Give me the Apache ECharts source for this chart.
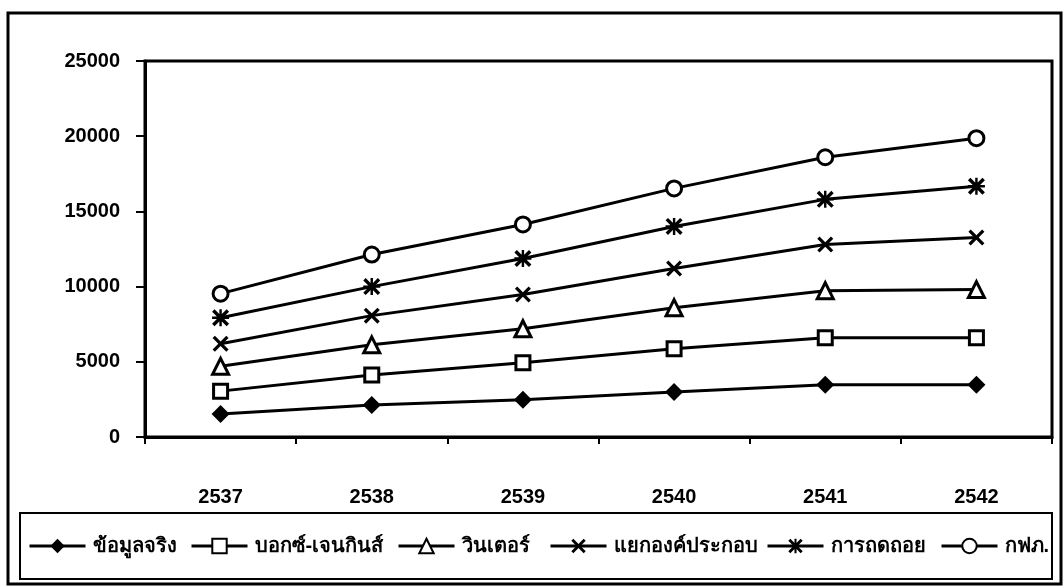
<!DOCTYPE html>
<html>
<head>
<meta charset="utf-8">
<script src="https://cdn.jsdelivr.net/npm/echarts@6/dist/echarts.min.js"></script>
<style>
  html, body { margin: 0; padding: 0; background: #fff; }
  #chart { width: 1064px; height: 587px; }
</style>
</head>
<body>
<div id="chart"></div>
<script>
// ปี พ.ศ.
const years = ['2537', '2538', '2539', '2540', '2541', '2542'];

// ค่าของแต่ละวิธี (อ่านจากภาพ)
const actual = [1530, 2130, 2470, 3000, 3470, 3470];
const boxJenkins = [3050, 4130, 4930, 5870, 6600, 6600];
const winters = [4700, 6130, 7200, 8600, 9730, 9800];
const decomposition = [6200, 8070, 9470, 11200, 12800, 13270];
const regression = [7930, 10000, 11870, 14000, 15800, 16670];
const pea = [9530, 12130, 14130, 16530, 18600, 19870];

const seriesNames = ['ข้อมูลจริง', 'บอกซ์-เจนกินส์', 'วินเตอร์', 'แยกองค์ประกอบ', 'การถดถอย', 'กฟภ.'];
const yTicks = [0, 5000, 10000, 15000, 20000, 25000];

// ตำแหน่งเริ่มของแต่ละรายการในคำอธิบาย
const legendLeft = [28, 190, 397, 549, 766, 940];

const crossPath = 'path://M2,0 L7,5 L12,0 L14,2 L9,7 L14,12 L12,14 L7,9 L2,14 L0,12 L5,7 L0,2 Z';
const starPath = 'path://M2,0 L7,5 L12,0 L14,2 L9,7 L14,12 L12,14 L7,9 L2,14 L0,12 L5,7 L0,2 Z M6,0 L8,0 L8,14 L6,14 Z M0,6 L14,6 L14,8 L0,8 Z';

const font = '"Liberation Sans", Arial, sans-serif';

const makeSeries = (name, data, symbol, size, hollow) => ({
  name: name,
  type: 'line',
  data: data,
  symbol: symbol,
  symbolSize: size,
  showAllSymbol: true,
  lineStyle: {color: '#000', width: 3},
  itemStyle: hollow
    ? {color: '#fff', borderColor: '#000', borderWidth: 3}
    : {color: '#000', borderWidth: 0},
  emphasis: {disabled: true},
  z: 3
});

// แต่ละรายการเป็น legend แยก เพื่อวางตำแหน่งให้ตรง
const legends = seriesNames.map((name, i) => ({
  data: [name],
  left: legendLeft[i],
  top: 536,
  padding: 0,
  itemWidth: 56,
  itemHeight: 18,
  itemGap: 0,
  selectedMode: false,
  lineStyle: {width: 3, color: '#000'},
  textStyle: {
    color: '#000',
    fontSize: 20,
    fontWeight: 'bold',
    fontFamily: font,
    padding: [0, 0, 0, 2]
  }
}));

const chart = echarts.init(document.getElementById('chart'));

chart.setOption({
  animation: false,
  backgroundColor: '#fff',
  textStyle: {fontFamily: font},
  graphic: [
    // กรอบนอก
    {
      type: 'rect',
      shape: {x: 8, y: 13, width: 1053, height: 571},
      style: {fill: 'none', stroke: '#000', lineWidth: 3},
      silent: true
    },
    // กรอบคำอธิบาย
    {
      type: 'rect',
      shape: {x: 20, y: 513, width: 1032, height: 66},
      style: {fill: 'none', stroke: '#000', lineWidth: 2},
      silent: true
    }
  ],
  grid: {
    left: 145,
    right: 12,
    top: 61,
    bottom: 150,
    show: true,
    borderColor: '#000',
    borderWidth: 3
  },
  legend: legends,
  xAxis: {
    type: 'category',
    data: years,
    boundaryGap: true,
    axisLine: {lineStyle: {color: '#000', width: 3}},
    axisTick: {show: true, length: 7, lineStyle: {color: '#000', width: 2}},
    axisLabel: {
      color: '#000',
      fontSize: 20,
      fontWeight: 'bold',
      margin: 50
    },
    splitLine: {show: false}
  },
  yAxis: {
    type: 'value',
    min: yTicks[0],
    max: yTicks[yTicks.length - 1],
    interval: 5000,
    axisLine: {show: true, lineStyle: {color: '#000', width: 3}},
    axisTick: {show: true, length: 9, lineStyle: {color: '#000', width: 2}},
    axisLabel: {
      color: '#000',
      fontSize: 20,
      fontWeight: 'bold',
      margin: 25,
      formatter: v => String(v)
    },
    splitLine: {show: false}
  },
  series: [
    makeSeries(seriesNames[0], actual, 'diamond', 18, false),
    makeSeries(seriesNames[1], boxJenkins, 'rect', 14, true),
    makeSeries(seriesNames[2], winters, 'triangle', 16, true),
    makeSeries(seriesNames[3], decomposition, crossPath, 16, false),
    makeSeries(seriesNames[4], regression, starPath, 17, false),
    makeSeries(seriesNames[5], pea, 'circle', 15, true)
  ]
});
</script>
</body>
</html>
